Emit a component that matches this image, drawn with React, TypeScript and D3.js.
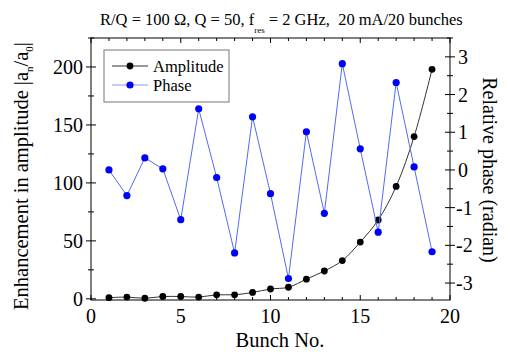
import React from "react";
import * as d3 from "d3";

const bunches = [1, 2, 3, 4, 5, 6, 7, 8, 9, 10, 11, 12, 13, 14, 15, 16, 17, 18, 19];
const amplitude = [1, 1.5, 0.5, 2, 2, 1.5, 3.5, 3.5, 5.5, 8.5, 10, 17, 24, 33, 49, 68, 97, 140, 198];
const phase = [0, -0.68, 0.32, 0.03, -1.32, 1.62, -0.2, -2.2, 1.41, -0.63, -2.88, 1.01, -1.15, 2.82, 0.56, -1.65, 2.32, 0.08, -2.17];
const xTicks = [0, 5, 10, 15, 20];
const yLeftTicks = [0, 50, 100, 150, 200];
const yRightTicks = [-3, -2, -1, 0, 1, 2, 3];

const W = 510, H = 355;
const L = 91, R = 450, T = 38, B = 300;
const FONT = `"Liberation Serif"`;
const fs = (size: number) => ({ fontFamily: FONT, fontSize: size });

export default function App() {
  const x = d3.scaleLinear().domain([0, 20]).range([L, R]);
  const yL = d3.scaleLinear().domain([-1, 225]).range([B, T]);
  const yR = d3.scaleLinear().domain([-3.45, 3.5]).range([B, T]);

  const ampLine = d3.line<number>().x((_, i) => x(bunches[i])).y((d) => yL(d)).curve(d3.curveCatmullRom);
  const phLine = d3.line<number>().x((_, i) => x(bunches[i])).y((d) => yR(d));

  const xMinor = d3.range(0, 21, 1);
  const yLMinor = d3.range(0, 226, 25);
  const yRMinor = d3.range(-3, 3.51, 0.5);

  return (
    <svg width={W} height={H} style={{ position: "absolute", left: 0, top: 0, background: "#fff" }}>
      {/* title */}
      <text x={100} y={25} style={fs(16.5)} fill="#000">
        R/Q = 100 Ω, Q = 50, f
        <tspan style={fs(9)} dy={8}>res</tspan>
        <tspan dy={-8}>{"\u00a0= 2 GHz,\u00a0 20 mA/20 bunches"}</tspan>
      </text>

      {/* frame */}
      <rect x={L} y={T} width={R - L} height={B - T} fill="none" stroke="#000" strokeWidth={1} />

      {/* x ticks bottom & top */}
      {xMinor.map((v) => {
        const major = v % 5 === 0;
        const len = major ? 5 : 3;
        return (
          <g key={"xt" + v}>
            <line x1={x(v)} x2={x(v)} y1={B} y2={B - len} stroke="#000" />
            <line x1={x(v)} x2={x(v)} y1={T} y2={T + len} stroke="#000" />
          </g>
        );
      })}
      {xTicks.map((v) => (
        <text key={"xl" + v} x={x(v)} y={323} style={fs(20)} textAnchor="middle">{v}</text>
      ))}

      {/* left ticks */}
      {yLMinor.map((v) => {
        const major = v % 50 === 0;
        const len = major ? 5 : 3;
        return <line key={"ylt" + v} x1={L - len} x2={L + len} y1={yL(v)} y2={yL(v)} stroke="#000" />;
      })}
      {yLeftTicks.map((v) => (
        <text key={"yll" + v} x={L - 8} y={yL(v) + 7} style={fs(20)} textAnchor="end">{v}</text>
      ))}

      {/* right ticks */}
      {yRMinor.map((v) => {
        const major = Math.abs(v - Math.round(v)) < 1e-6;
        const len = major ? 5 : 3;
        return <line key={"yrt" + v} x1={R - len} x2={R + len} y1={yR(v)} y2={yR(v)} stroke="#000" />;
      })}
      {yRightTicks.map((v) => (
        <text key={"yrl" + v} x={v < 0 ? R + 6 : R + 8} y={yR(v) + 7} style={fs(20)} textAnchor="start">{v}</text>
      ))}

      {/* axis titles */}
      <text x={280} y={347} style={fs(20.5)} textAnchor="middle">Bunch No.</text>
      <text transform={`translate(28,176) rotate(-90)`} style={fs(20.5)} textAnchor="middle">
        Enhancement in amplitude |a
        <tspan style={fs(11)} dy={5}>n</tspan>
        <tspan dy={-5}>/a</tspan>
        <tspan style={fs(11)} dy={5}>0</tspan>
        <tspan dy={-5}>|</tspan>
      </text>
      <text transform={`translate(483,170) rotate(90)`} style={fs(20)} textAnchor="middle">Relative phase (radian)</text>

      {/* amplitude series */}
      <path d={ampLine(amplitude) ?? ""} fill="none" stroke="#333" strokeWidth={1} />
      {amplitude.map((v, i) => (
        <circle key={"a" + i} cx={x(bunches[i])} cy={yL(v)} r={3.4} fill="#000" />
      ))}

      {/* phase series */}
      <path d={phLine(phase) ?? ""} fill="none" stroke="#4f6cf2" strokeWidth={1} />
      {phase.map((v, i) => (
        <circle key={"p" + i} cx={x(bunches[i])} cy={yR(v)} r={3.6} fill="#0000ff" />
      ))}

      {/* legend */}
      <rect x={104} y={50} width={125} height={52} fill="#fff" stroke="#777" strokeWidth={1} />
      <line x1={112} x2={148} y1={66} y2={66} stroke="#333" />
      <circle cx={130} cy={66} r={3.4} fill="#000" />
      <text x={153} y={72} style={fs(16.5)}>Amplitude</text>
      <line x1={112} x2={148} y1={85} y2={85} stroke="#8a9cf5" />
      <circle cx={130} cy={85} r={3.6} fill="#0000ff" />
      <text x={153} y={91} style={fs(16.5)}>Phase</text>
    </svg>
  );
}
